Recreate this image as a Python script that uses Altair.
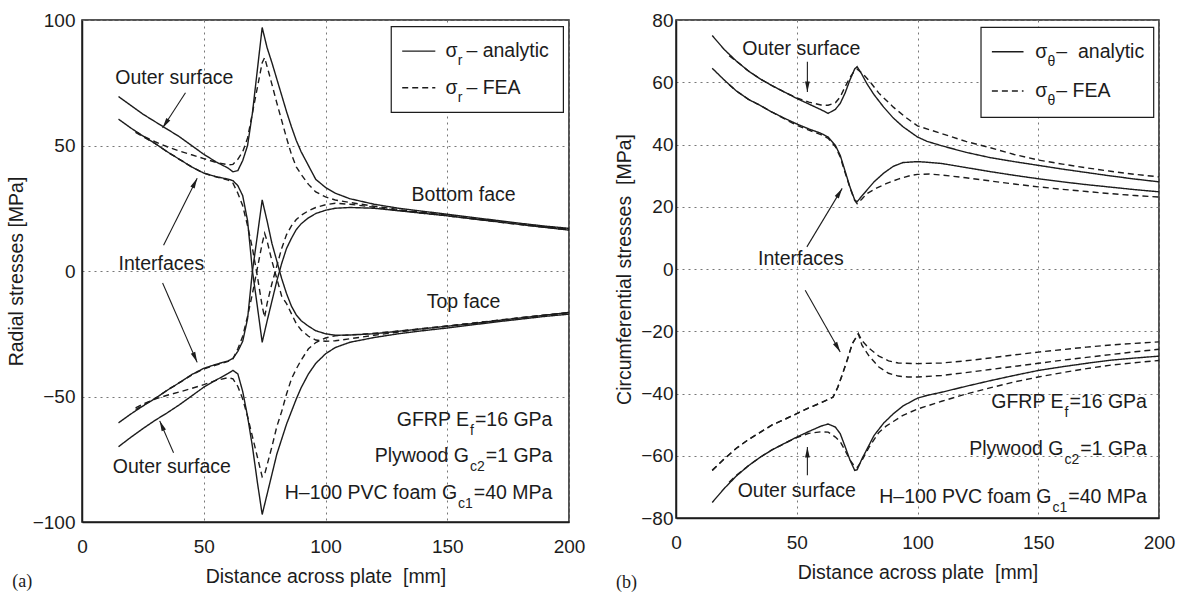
import math
import altair as alt
import pandas as pd

INK = "#1c1c1c"
FONT = "Liberation Sans, Arial, sans-serif"
SERIF = "Liberation Serif, serif"
NARROW = 1.0
F_LAB, F_TXT, F_SUB, F_PAN = 19, 19.5, 14, 18
NB = "\u00a0"

# ---------------- panel (a): radial stresses ----------------
A_X = [15, 20, 25, 30, 35, 40, 45, 50, 55, 60, 62, 64, 66, 68, 70, 72, 74, 76, 78, 80,
       82, 84, 86, 88, 90, 93, 96, 100, 104, 110, 120, 130, 140, 150, 160, 170, 180, 190, 200]
A_OUT_UP = [69.5, 66, 62.5, 59.5, 56.5, 53.5, 50, 46.5, 43.5, 41, 39.5, 40, 44, 50, 63, 80, 97, 89, 83, 76.5,
            70, 63.5, 57.5, 52, 47.5, 42, 36.5, 33.3, 31, 28.8, 26.6, 25, 23.8, 22.6, 21.4, 20.2, 19, 17.9, 17]
A_INT_UP = [60.5, 57, 53.8, 50.8, 47.5, 44.5, 41.5, 39, 37.6, 36.6, 36, 34, 30, 20, 0, -14, -28.4, -20, -12, -4,
            3, 9, 13, 16.5, 18.8, 21.2, 22.9, 24.2, 25, 25.3, 25, 24, 23, 22, 20.8, 19.7, 18.5, 17.4, 16.3]
A_INT_LO = [-60.5, -57, -53.8, -50.8, -47.5, -44.5, -41.3, -38.8, -37.2, -35.8, -34.8, -32, -28, -19, 0, 14, 28.3, 20, 11, 4,
            -3, -9, -14, -17.5, -19.8, -22, -23.8, -25, -25.6, -25.5, -25, -24, -23, -22, -21, -19.8, -18.7, -17.6, -16.5]
A_OUT_LO = [-70, -66.3, -62.8, -59.5, -56.5, -53.3, -49.8, -46.3, -43.5, -40.8, -39.6, -41, -48, -58, -70, -84, -97, -89, -81, -73,
            -67, -61, -56, -51, -46.5, -41, -36.8, -33, -30.5, -28.4, -26.5, -25, -23.8, -22.7, -21.5, -20.3, -19.2, -18.1, -17.2]

FA_X1 = [22, 25, 30, 35, 40, 45, 50, 55, 60, 62, 64, 66, 68, 70, 72, 74, 75, 77, 80, 82,
         84, 86, 88, 90, 93, 96, 100, 104, 110, 120, 130, 140, 150, 160, 170, 180, 190, 200]
FA_OUT_UP = [55.5, 53.8, 51.5, 49.5, 47.8, 46.3, 44.8, 43.3, 42.3, 42.5, 44.5, 47.5, 53, 63, 73, 83, 85, 78, 67, 60,
             53, 46.5, 41.5, 38.5, 34.5, 31.5, 29.5, 28.3, 27.3, 25.8, 24.5, 23.3, 22.2, 21, 19.9, 18.8, 17.7, 16.7]
FA_X2 = [22, 25, 30, 35, 40, 45, 50, 55, 60, 62, 64, 66, 68, 70, 72, 74, 75, 76, 78, 80,
         82, 84, 86, 88, 90, 93, 96, 100, 104, 110, 120, 130, 140, 150, 160, 170, 180, 190, 200]
FA_INT_UP = [55.2, 53.6, 50.8, 47.5, 44.5, 41.5, 39, 37.5, 36.2, 35, 31, 26, 18, 9, -2, -14, -18.5, -13, -5, 2,
             9, 14.5, 18, 20.5, 22.2, 24, 25.3, 26.4, 27, 26.6, 25.4, 24.2, 23, 22, 20.8, 19.6, 18.5, 17.4, 16.4]
FA_INT_LO = [-55.2, -53.6, -50.8, -47.5, -44.5, -41.5, -39, -37.5, -36, -35, -31, -26, -18, -9, 1, 11, 15, 12, 4, -3,
             -10, -13, -17, -21, -23.5, -26, -27.5, -28, -27.8, -27, -25.6, -24.3, -23.1, -22, -20.9, -19.8, -18.7, -17.6, -16.6]
FA_X3 = [22, 25, 30, 35, 40, 45, 50, 55, 60, 62, 64, 66, 68, 70, 72, 74, 75, 78, 80, 82,
         84, 86, 88, 90, 93, 96, 100, 104, 110, 120, 130, 140, 150, 160, 170, 180, 190, 200]
FA_OUT_LO = [-54.5, -53, -51, -49.5, -48.2, -46.8, -45.3, -43.6, -42.5, -43, -46, -51, -58, -66, -74, -82, -81, -70, -62, -56,
             -49, -43, -39, -35.5, -31, -28.5, -26.7, -25.8, -25.5, -24.8, -23.9, -22.9, -21.9, -20.8, -19.7, -18.6, -17.6, -16.6]

# ---------------- panel (b): circumferential stresses ----------------
B_X = [15, 20, 25, 30, 35, 40, 45, 50, 55, 60, 63, 66, 68, 70, 72, 74, 75, 77, 79, 82,
       86, 90, 94, 100, 104, 110, 120, 130, 140, 150, 160, 170, 180, 190, 200]
B_OUT_UP = [75, 70.5, 66.8, 63.6, 61, 58.8, 56.8, 54.8, 53, 51.2, 50, 51.3, 53.2, 56.5, 60.7, 64.3, 65, 62.5, 59.6, 56,
            52, 48.5, 45.7, 42.4, 41, 39.6, 37.5, 35.8, 34.5, 33.3, 32.1, 31, 29.9, 28.9, 28]
B_INT_UP = [64.5, 60.7, 57.2, 54.5, 52.5, 50.3, 48.4, 46.6, 45, 43.6, 42.4, 39.7, 36.5, 31.5, 26.4, 22.2, 21.6, 23.5, 25.3, 28,
            30.8, 33, 34.2, 34.5, 34.3, 33.9, 32.6, 31.3, 30.1, 29, 28, 27.1, 26.3, 25.5, 24.8]
B_OUT_LO = [-75, -70.5, -66.5, -63.2, -60.4, -58, -56, -54, -52.2, -50.5, -49.8, -50.8, -52.9, -57, -61.3, -64.7, -64.5, -61, -58, -53.5,
            -49.5, -46.5, -44, -41.5, -40.6, -39.6, -37.7, -35.9, -34.2, -32.6, -31.4, -30.3, -29.3, -28.6, -28]

FB_X1 = [22, 25, 30, 35, 40, 45, 50, 55, 60, 63, 66, 68, 70, 72, 74, 75, 77, 80, 84, 90,
         95, 100, 110, 120, 130, 140, 150, 160, 170, 180, 190, 200]
FB_OUT_UP = [68.5, 66.8, 63.6, 61, 58.8, 56.8, 55, 53.6, 52.7, 52.6, 53.4, 55.3, 58.5, 61.5, 63.8, 64.2, 63, 60.5, 56.5, 52,
             48.8, 46, 43.5, 41, 39, 36.8, 35, 33.7, 32.5, 31.4, 30.4, 29.6]
FB_X2 = [22, 25, 30, 35, 40, 45, 50, 55, 60, 63, 66, 68, 70, 72, 74, 75, 77, 79, 83, 87,
         92, 97, 100, 105, 110, 120, 130, 140, 150, 160, 170, 180, 190, 200]
FB_INT_UP = [59.2, 57.2, 54.5, 52.5, 50.3, 48.2, 46.2, 44.6, 43.2, 42, 39.3, 36, 31, 26.2, 22, 21, 22.5, 24.2, 26, 27.4,
             28.9, 30, 30.4, 30.5, 30.2, 29.3, 28.3, 27.3, 26.4, 25.6, 24.9, 24.2, 23.6, 23.1]
FB_X3 = [22, 25, 30, 35, 40, 45, 50, 55, 60, 63, 66, 68, 70, 72, 74, 75, 77, 80, 84, 87,
         90, 94, 100, 110, 120, 130, 140, 150, 160, 170, 180, 190, 200]
FB_OUT_LO = [-68.5, -66.3, -63.2, -60.4, -58, -56, -54.2, -52.8, -52.3, -52.4, -54, -55.5, -58.3, -61.3, -63.5, -63.8, -61.5, -57.2, -52.5, -50.5,
             -49, -47, -45, -42.5, -40.2, -38.2, -36.3, -34.7, -33.3, -32, -30.9, -30.1, -29.4]
FB_X4 = [15, 20, 25, 30, 35, 40, 45, 50, 55, 60, 65, 67, 69, 71, 73, 75.5, 77, 80, 84, 88,
         92, 100, 110, 120, 130, 140, 150, 160, 170, 180, 190, 200]
FB_INT_LO_A = [-64.7, -61, -57.6, -54.8, -52.4, -50, -48.3, -46.5, -44.6, -43, -41.2, -38, -33.6, -29, -24, -20.8, -23, -25.5, -28, -29.5,
               -30.2, -30.4, -30.2, -29.5, -28.6, -27.6, -26.7, -25.9, -25.1, -24.4, -23.9, -23.4]
FB_X5 = [15, 20, 25, 30, 35, 40, 45, 50, 55, 60, 65, 67, 69, 71, 73, 75.5, 77, 80, 84, 88,
         92, 96, 100, 110, 120, 130, 140, 150, 160, 170, 180, 190, 200]
FB_INT_LO_B = [-64.7, -61, -57.6, -54.8, -52.4, -50, -48.3, -46.5, -44.6, -43, -41.2, -38, -33.6, -29, -24, -20.8, -24.5, -28, -31.5, -33.5,
               -34.4, -34.7, -34.7, -34.2, -33.3, -32.3, -31.3, -30.3, -29.3, -28.4, -27.5, -26.6, -25.8]

X_TICKS = [0, 50, 100, 150, 200]
A_Y_TICKS = [-100, -50, 0, 50, 100]
B_Y_TICKS = [-80, -60, -40, -20, 0, 20, 40, 60, 80]

MAT_MAIN = ["GFRP E", "Plywood G", "H\u2013100 PVC foam G"]
MAT_SUB = ["f", "c2", "c1"]
MAT_REST = ["=16 GPa", "=1 GPa", "=40 MPa"]

AW = {' ': 278, NB: 278, '=': 584, 'G': 778, 'P': 667, 'a': 556, 'M': 833, 'f': 278, 'c': 500,
      'r': 333, '\u03c3': 600, '\u03b8': 556, '\u2013': 556, 'E': 667, 'F': 611, 'A': 667}


def textw(s, size):
    return sum(AW.get(ch, 556) for ch in s) / 1000.0 * size * NARROW


ARROW = "M0,0L0.5,2.2L-0.5,2.2Z"
DASH = alt.Scale(domain=["analytic", "FEA"], range=[[1, 0], [6, 4]])


def build(cfg):
    W, H = cfg["W"], cfg["H"]
    ydom = cfg["ydom"]
    kx = W / 200.0
    ky = H / float(ydom[1] - ydom[0])
    xs = alt.Scale(domain=[0, 200], nice=False, zero=False)
    ys = alt.Scale(domain=ydom, nice=False, zero=False)
    xax = alt.Axis(values=X_TICKS, title="Distance across plate" + NB + " [mm]",
                   labelPadding=15, titlePadding=11, labelFlush=False)
    yax = alt.Axis(values=cfg["yticks"], title=cfg["ytitle"],
                   labelPadding=cfg["ylabpad"], titlePadding=cfg["ytitlepad"])

    def X(f="x"):
        return alt.X(f + ":Q", scale=xs, axis=xax)

    def Y(f="y"):
        return alt.Y(f + ":Q", scale=ys, axis=yax)

    rows = []
    for name, style, cx, cy in cfg["curves"]:
        assert len(cx) == len(cy), name
        rows += [{"x": a, "y": b, "curve": name, "style": style} for a, b in zip(cx, cy)]
    lines = alt.Chart(pd.DataFrame(rows)).mark_line(color=INK, strokeWidth=1.4).encode(
        x=X(), y=Y(),
        strokeDash=alt.StrokeDash("style:N", scale=DASH, legend=None),
        detail="curve:N",
    )
    layers = [lines]

    # legend
    bx0, bx1, by0, by1 = cfg["lbox"]
    layers.append(alt.Chart(pd.DataFrame([{"x": bx0, "x2": bx1, "y": by0, "y2": by1}])).mark_rect(
        fill="white", stroke=INK, strokeWidth=1.2).encode(x=X(), x2=alt.X2("x2:Q"), y=Y(), y2=alt.Y2("y2:Q")))
    sx0, sx1 = cfg["lsample"]
    ly = cfg["lrows"]
    layers.append(alt.Chart(pd.DataFrame([
        {"x": sx0, "x2": sx1, "y": ly[0], "style": "analytic"},
        {"x": sx0, "x2": sx1, "y": ly[1], "style": "FEA"}])).mark_rule(color=INK, strokeWidth=1.4).encode(
        x=X(), x2=alt.X2("x2:Q"), y=Y(), strokeDash=alt.StrokeDash("style:N", scale=DASH, legend=None)))
    sym_x = cfg["lsym_x"]
    sub_x = sym_x + (textw("\u03c3", F_TXT) + 0.5) / kx
    rest_x = sub_x + (textw(cfg["lsub"], F_SUB) + cfg["lgap"]) / kx
    main_t, sub_t = [], []
    for yy, rest in zip(ly, cfg["lrest"]):
        main_t.append({"x": sym_x, "y": yy, "t": "\u03c3"})
        main_t.append({"x": rest_x, "y": yy, "t": rest})
        sub_t.append({"x": sub_x, "y": yy - 10 / ky, "t": cfg["lsub"]})

    # materials block
    right_t, rsub_t = [], []
    for mm, ss, rr, yy in zip(MAT_MAIN, MAT_SUB, MAT_REST, cfg["mrows"]):
        xr = cfg["mright"]
        xs_ = xr - (textw(rr, F_TXT) + 1) / kx
        xm = xs_ - (textw(ss, F_SUB) + 1) / kx
        right_t.append({"x": xr, "y": yy, "t": rr})
        right_t.append({"x": xm, "y": yy, "t": mm})
        rsub_t.append({"x": xs_, "y": yy - 11 / ky, "t": ss})

    def txt(data, align, size, font=FONT):
        return alt.Chart(pd.DataFrame(data)).mark_text(
            align=align, baseline="middle", font=font, fontSize=size, color=INK).encode(
            x=X(), y=Y(), text="t:N")

    layers.append(txt(main_t, "left", F_TXT))
    layers.append(txt(sub_t, "left", F_SUB))
    layers.append(txt(right_t, "right", F_TXT))
    layers.append(txt(rsub_t, "right", F_SUB))
    layers.append(txt([{"x": a, "y": b, "t": t} for t, a, b in cfg["ann"]], "center", F_TXT))
    px, py = cfg["plabel"]
    layers.append(txt([{"x": px, "y": py, "t": cfg["ptext"]}], "center", F_PAN, SERIF))

    # arrows
    shafts, heads = [], []
    for x0, y0, x1, y1 in cfg["arrows"]:
        shafts.append({"x": x0, "y": y0, "x2": x1, "y2": y1})
        dx = (x1 - x0) * kx
        dy = -(y1 - y0) * ky
        ang = math.degrees(math.atan2(dx, -dy)) % 360
        heads.append({"x": x1, "y": y1, "ang": ang})
    layers.append(alt.Chart(pd.DataFrame(shafts)).mark_rule(color=INK, strokeWidth=1.1).encode(
        x=X(), y=Y(), x2=alt.X2("x2:Q"), y2=alt.Y2("y2:Q")))
    layers.append(alt.Chart(pd.DataFrame(heads)).mark_point(
        shape=ARROW, filled=True, size=90, color=INK, opacity=1).encode(
        x=X(), y=Y(), angle=alt.Angle("ang:Q", scale=None)))

    return alt.layer(*layers).properties(width=W, height=H)


cfg_a = dict(
    W=487, H=502, ydom=[-100, 100], yticks=A_Y_TICKS, ytitle="Radial stresses [MPa]",
    ylabpad=7, ytitlepad=6,
    curves=[
        ("ou", "analytic", A_X, A_OUT_UP), ("iu", "analytic", A_X, A_INT_UP),
        ("il", "analytic", A_X, A_INT_LO), ("ol", "analytic", A_X, A_OUT_LO),
        ("fou", "FEA", FA_X1, FA_OUT_UP), ("fiu", "FEA", FA_X2, FA_INT_UP),
        ("fil", "FEA", FA_X2, FA_INT_LO), ("fol", "FEA", FA_X3, FA_OUT_LO),
    ],
    lbox=(127, 197.7, 63.2, 97.4), lsample=(131.5, 145.1), lrows=[87.6, 73.0],
    lsym_x=149.3, lsub="r", lgap=4, lrest=["\u2013 analytic", "\u2013 FEA"],
    mright=193.2, mrows=[-59.3, -73.7, -88.4],
    ann=[("Outer surface", 37.9, 76.7), ("Interfaces", 32.6, 2.7), ("Outer surface", 36.9, -78.1),
         ("Bottom face", 156.7, 30.3), ("Top face", 156.7, -12.5)],
    arrows=[(42.5, 71, 33.1, 57), (33.5, 10.3, 47.3, 37), (33.1, -4.8, 47.3, -36.4), (37.6, -72.4, 31.9, -59.7)],
    plabel=(-24.5, -124), ptext="(a)",
)

cfg_b = dict(
    W=483, H=498, ydom=[-80, 80], yticks=B_Y_TICKS, ytitle="Circumferential stresses" + NB + " [MPa]",
    ylabpad=3, ytitlepad=6,
    curves=[
        ("ou", "analytic", B_X, B_OUT_UP), ("iu", "analytic", B_X, B_INT_UP),
        ("ol", "analytic", B_X, B_OUT_LO),
        ("fou", "FEA", FB_X1, FB_OUT_UP), ("fiu", "FEA", FB_X2, FB_INT_UP),
        ("fol", "FEA", FB_X3, FB_OUT_LO), ("fila", "FEA", FB_X4, FB_INT_LO_A),
        ("filb", "FEA", FB_X5, FB_INT_LO_B),
    ],
    lbox=(126.3, 197.8, 48.7, 77.6), lsample=(130.8, 143.9), lrows=[69.8, 57.2],
    lsym_x=148.8, lsub="\u03b8", lgap=1, lrest=["\u2013" + NB + " analytic", "\u2013 FEA"],
    mright=195, mrows=[-42.8, -57.7, -73.3],
    ann=[("Outer surface", 51.9, 70.6), ("Interfaces", 51.7, 3.1), ("Outer surface", 50, -71.2)],
    arrows=[(54.4, 66.6, 54.4, 56.9), (54.2, 7.1, 68.8, 25.9), (53.5, -6.8, 68, -26.7), (54.4, -66.3, 54.4, -57.2)],
    plabel=(-20.5, -101), ptext="(b)",
)

chart = alt.hconcat(build(cfg_a), build(cfg_b), spacing=28).properties(
    padding={"left": 5, "top": 10, "right": 2, "bottom": 2}, background="white"
).configure_view(stroke=INK, strokeWidth=1.5).configure_axis(
    labelFont=FONT, labelFontSize=F_LAB, labelColor=INK,
    titleFont=FONT, titleFontSize=F_TXT, titleFontWeight="normal", titleColor=INK,
    grid=True, gridColor="#777777", gridDash=[2, 4], gridWidth=1,
    ticks=False, domainColor=INK, domainWidth=1.5,
)

chart.save("out.html", embed_options={"renderer": "svg", "actions": False})
